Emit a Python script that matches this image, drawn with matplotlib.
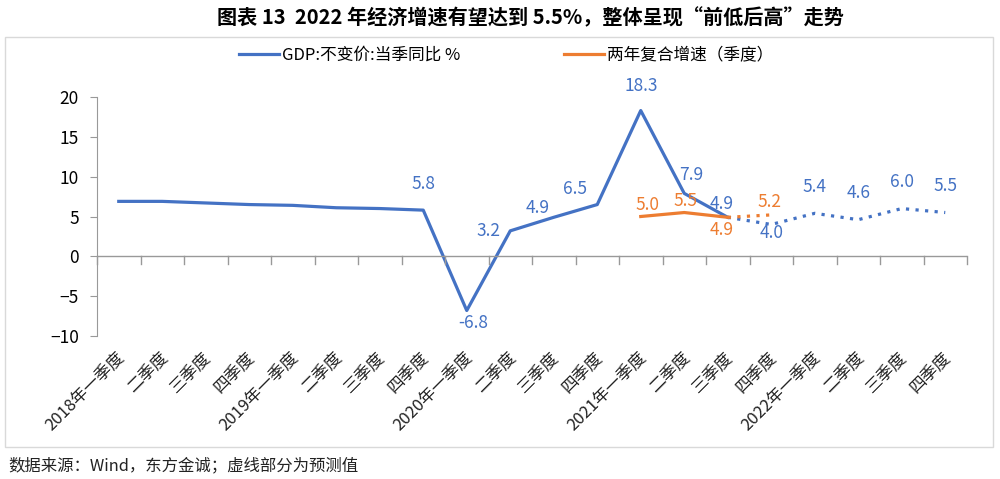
import numpy as np
import matplotlib.pyplot as plt
from matplotlib.patches import Rectangle

plt.rcParams['font.family'] = ['Noto Sans CJK SC', 'DejaVu Sans']

# 数据
quarters = ['2018年一季度', '二季度', '三季度', '四季度',
            '2019年一季度', '二季度', '三季度', '四季度',
            '2020年一季度', '二季度', '三季度', '四季度',
            '2021年一季度', '二季度', '三季度', '四季度',
            '2022年一季度', '二季度', '三季度', '四季度']
gdp = [6.9, 6.9, 6.7, 6.5, 6.4, 6.1, 6.0, 5.8,
       -6.8, 3.2, 4.9, 6.5, 18.3, 7.9, 4.9, 4.0,
       5.4, 4.6, 6.0, 5.5]
two_year = [5.0, 5.5, 4.9, 5.2]   # 2021 Q1-Q4
gdp_actual_end = 14               # 2021Q3, after this forecast
label_idx = [7, 8, 9, 10, 11, 12, 13, 14, 15, 16, 17, 18, 19]

blue = '#4472C4'
orange = '#ED7D31'

fig = plt.figure(figsize=(10, 4.79), dpi=100)
ax = fig.add_axes([0.097, 0.2985, 0.87, 0.499])
x = np.arange(len(quarters))

ax.plot(x[:gdp_actual_end + 1], gdp[:gdp_actual_end + 1], color=blue, lw=2.3,
        label='GDP:不变价:当季同比 %')
ax.plot(x[gdp_actual_end:], gdp[gdp_actual_end:], color=blue, lw=2.3, ls=(0, (1, 2)))
x2 = x[12:16]
ax.plot(x2[:3], two_year[:3], color=orange, lw=2.3, label='两年复合增速（季度）')
ax.plot(x2[2:], two_year[2:], color=orange, lw=2.3, ls=(0, (1, 2)))

# 数据标签 (dx in categories, dy in points)
offsets = {7: (0, 19), 8: (0.14, -9), 9: (-0.5, 0), 10: (-0.37, 6.5), 11: (-0.52, 11),
           12: (0, 18), 13: (0.17, 13), 14: (-0.14, 9.5), 15: (0.02, -6),
           16: (0, 19), 17: (0, 19), 18: (0, 19), 19: (0, 19)}
for i in label_idx:
    dx, dy = offsets[i]
    ax.annotate(f'{gdp[i]:.1f}', (x[i] + dx, gdp[i]), xytext=(0, dy),
                textcoords='offset points', ha='center', va='center',
                color=blue, fontsize=12.5)
o_off = [(0.15, 8), (0.02, 8), (-0.15, -9), (-0.05, 9)]
for xi, v, (dx, dy) in zip(x2, two_year, o_off):
    ax.annotate(f'{v:.1f}', (xi + dx, v), xytext=(0, dy),
                textcoords='offset points', ha='center', va='center',
                color=orange, fontsize=12.5)

ax.set_xlim(-0.5, len(quarters) - 0.5)
ax.set_ylim(-10, 20)
ax.set_yticks(range(-10, 21, 5))
ax.tick_params(axis='y', labelsize=12.5, color='#999999', length=5, pad=8)
for s in ['top', 'right', 'bottom']:
    ax.spines[s].set_visible(False)
ax.spines['left'].set_color('#999999')
ax.axhline(0, color='#999999', lw=1)
ax.set_xticks([])
for t in np.arange(-0.5, len(quarters), 1):
    ax.plot([t, t], [0, -0.9], color='#999999', lw=1, clip_on=False)
for xi, lab in zip(x, quarters):
    ax.text(xi + 0.05, -12.3, lab, rotation=45, rotation_mode='anchor', ha='right',
            va='center', fontsize=12, color='#222222')

ax.legend(loc='center', bbox_to_anchor=(0.47, 1.175), ncol=2, frameon=False,
          fontsize=12, handlelength=2.4, columnspacing=6.2, handletextpad=0.2)

fig.patches.append(Rectangle((0.005, 0.067), 0.988, 0.856, transform=fig.transFigure,
                             fill=False, edgecolor='#d9d9d9', lw=1))
fig.text(0.53, 0.962, '图表 13  2022 年经济增速有望达到 5.5%，整体呈现“前低后高”走势',
         ha='center', va='center', fontsize=14.5, fontweight='bold')
fig.text(0.008, 0.028, '数据来源：Wind，东方金诚；虚线部分为预测值', ha='left', va='center',
         fontsize=11.8, color='#222222')

fig.savefig('out.png', dpi=100)
